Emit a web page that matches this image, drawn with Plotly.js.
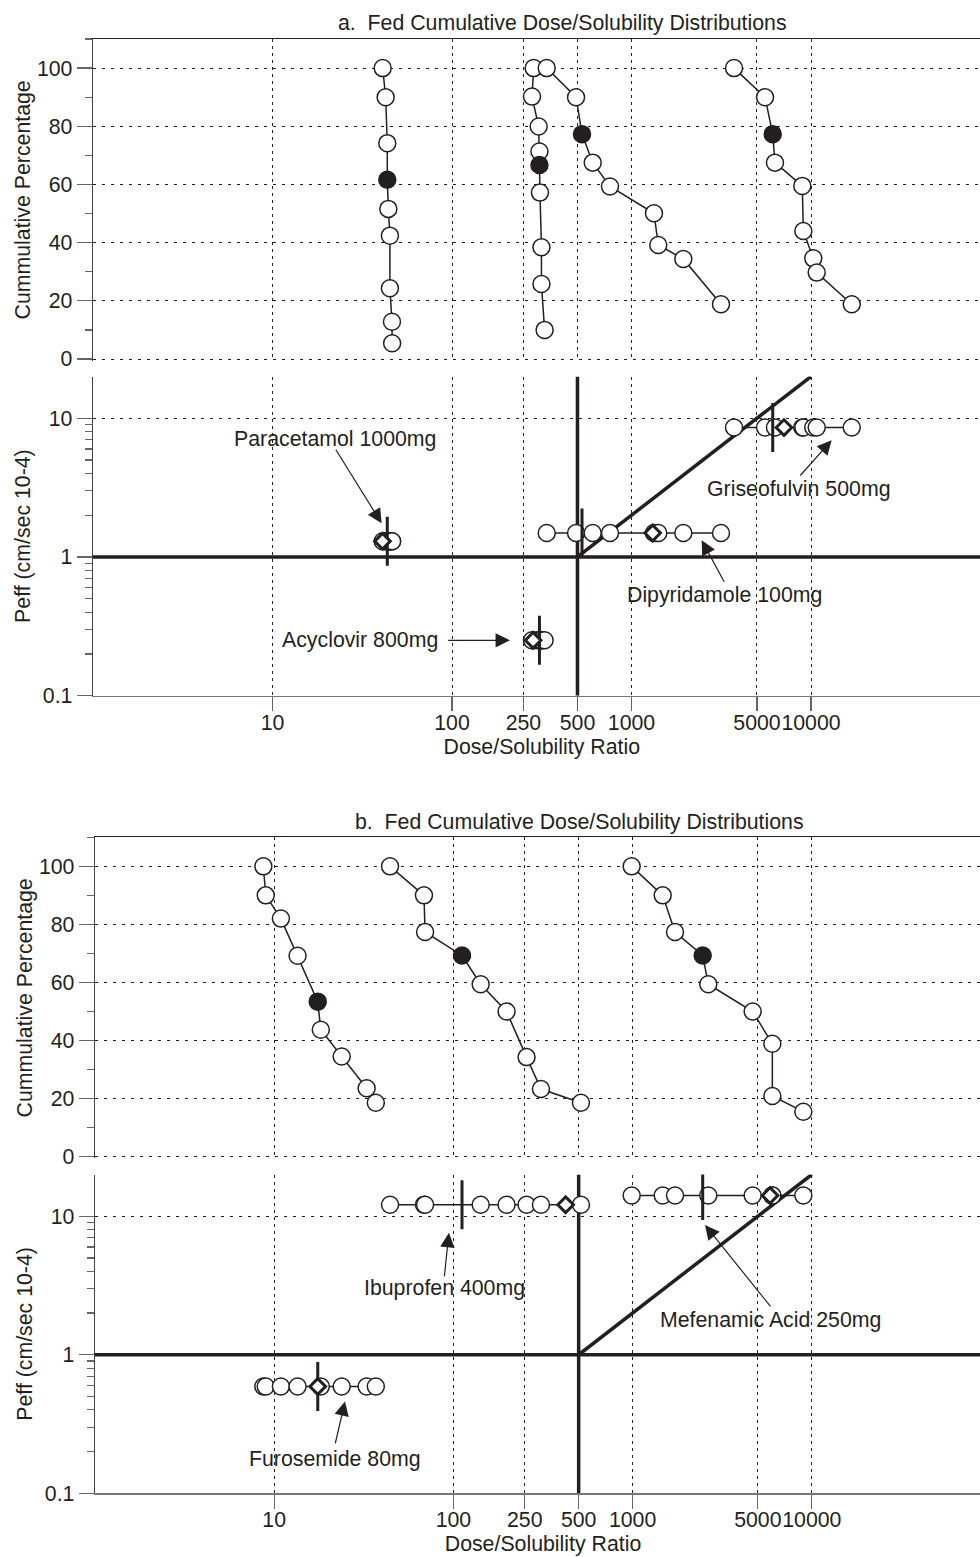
<!DOCTYPE html>
<html><head><meta charset="utf-8">
<script src="https://cdn.plot.ly/plotly-3.0.1.min.js"></script>
<style>html,body{margin:0;padding:0;overflow:hidden;background:#fff}</style>
</head><body><div id="chart" style="width:1000px;height:1557px"></div>
<script>
// ---------- tick labels ----------
const xTickVals = [10, 100, 250, 500, 1000, 5000, 10000];
const xTickText = ['10', '100', '250', '500', '1000', '5000', '10000'];
const pctTickVals = [0, 20, 40, 60, 80, 100];
const pctMinorVals = [10, 30, 50, 70, 90, 110];
const peffTickVals = [0.1, 1, 10];
const peffTickText = ['0.1', '1', '10'];
const peffMinorVals = [0.2, 0.3, 0.4, 0.5, 0.6, 0.7, 0.8, 0.9, 2, 3, 4, 5, 6, 7, 8, 9];

// ---------- classification boundaries ----------
const peffLimitX = [1, 100000];
const peffLimitY = [1, 1];
const dsLimitX = [500, 500];
const dsLimitY = [0.1, 20];
const diagX = [500, 10000];
const diagY = [1, 20];

// ---------- panel a ----------
const paracetamolDS  = [41.1, 42.7, 43.6, 43.6, 44.2, 45.1, 45.1, 46.3, 46.4];
const paracetamolPct = [100, 90, 74.2, 61.6, 51.6, 42.4, 24.3, 12.8, 5.4];
const paracetamolMedianIdx = 3;
const paracetamolMeanDS = 41;
const paracetamolPeff = 1.30;

const acyclovirDS  = [285, 279, 304, 307, 307, 309, 315, 315, 328];
const acyclovirPct = [100, 90.2, 79.9, 71.3, 66.7, 57.2, 38.4, 25.8, 10.0];
const acyclovirMedianIdx = 4;
const acyclovirMeanDS = 283;
const acyclovirPeff = 0.251;

const dipyridamoleDS  = [337, 491, 530, 608, 759, 1334, 1410, 1944, 3152];
const dipyridamolePct = [100, 90, 77.3, 67.5, 59.3, 50.1, 39.2, 34.4, 18.8];
const dipyridamoleMedianIdx = 2;
const dipyridamoleMeanDS = 1312;
const dipyridamolePeff = 1.49;

const griseofulvinDS  = [3724, 5546, 6120, 6299, 8944, 9063, 10295, 10759, 16866];
const griseofulvinPct = [100, 90, 77.3, 67.5, 59.5, 44.0, 34.6, 29.7, 18.8];
const griseofulvinMedianIdx = 2;
const griseofulvinMeanDS = 7070;
const griseofulvinPeff = 8.57;

// ---------- panel b ----------
const furosemideDS  = [8.70, 8.97, 10.9, 13.5, 17.5, 18.2, 23.8, 32.8, 36.9];
const furosemidePct = [100, 90, 82.0, 69.2, 53.4, 43.7, 34.5, 23.6, 18.6];
const furosemideMedianIdx = 4;
const furosemideMeanDS = 17.5;
const furosemidePeff = 0.59;

const ibuprofenDS  = [44.3, 68.5, 69.5, 111.7, 142, 198, 256, 308, 515];
const ibuprofenPct = [100, 90, 77.4, 69.3, 59.4, 50.0, 34.3, 23.3, 18.6];
const ibuprofenMedianIdx = 3;
const ibuprofenMeanDS = 423;
const ibuprofenPeff = 12.1;

const mefenamicDS  = [988, 1472, 1725, 2461, 2645, 4677, 6023, 6023, 8970];
const mefenamicPct = [100, 90, 77.4, 69.3, 59.4, 50.0, 38.9, 20.9, 15.5];
const mefenamicMedianIdx = 3;
const mefenamicMeanDS = 5847;
const mefenamicPeff = 14.1;

// ---------- styling ----------
const ink = '#231f20';
const fontFam = 'Liberation Sans, Arial, Helvetica, sans-serif';
const FS = 21.3;

function cumTrace(ds, pct, medIdx, xa, ya) {
  return {
    type: 'scatter', mode: 'lines+markers', x: ds, y: pct, xaxis: xa, yaxis: ya,
    line: {color: ink, width: 1.5},
    marker: {symbol: 'circle', size: 17,
      color: ds.map((_, i) => i === medIdx ? ink : '#ffffff'),
      line: {color: ink, width: 1.5}},
    hoverinfo: 'x+y'
  };
}
function rowTraces(ds, peff, medIdx, meanDS, xa, ya) {
  const xs = ds.filter((_, i) => i !== medIdx);
  return [
    {type: 'scatter', mode: 'lines+markers', x: xs, y: xs.map(() => peff), xaxis: xa, yaxis: ya,
     line: {color: ink, width: 1.5},
     marker: {symbol: 'circle', size: 17, color: '#ffffff', line: {color: ink, width: 1.5}}},
    {type: 'scatter', mode: 'markers', x: [ds[medIdx]], y: [peff], xaxis: xa, yaxis: ya,
     marker: {symbol: 'line-ns', size: 35, color: ink, line: {color: ink, width: 3}}},
    {type: 'scatter', mode: 'markers', x: [meanDS], y: [peff], xaxis: xa, yaxis: ya,
     marker: {symbol: 'diamond', size: 12, color: '#ffffff', line: {color: ink, width: 3}}}
  ];
}
function boundaryTraces(xa, ya) {
  const st = {type: 'scatter', mode: 'lines', xaxis: xa, yaxis: ya, hoverinfo: 'skip',
              line: {color: ink, width: 3.5}};
  return [
    Object.assign({x: peffLimitX, y: peffLimitY}, st),
    Object.assign({x: dsLimitX, y: dsLimitY}, st),
    Object.assign({x: diagX, y: diagY}, st)
  ];
}

const traces = [].concat(
  boundaryTraces('x2', 'y2'),
  boundaryTraces('x4', 'y4'),
  [cumTrace(paracetamolDS, paracetamolPct, paracetamolMedianIdx, 'x', 'y'),
   cumTrace(acyclovirDS, acyclovirPct, acyclovirMedianIdx, 'x', 'y'),
   cumTrace(dipyridamoleDS, dipyridamolePct, dipyridamoleMedianIdx, 'x', 'y'),
   cumTrace(griseofulvinDS, griseofulvinPct, griseofulvinMedianIdx, 'x', 'y')],
  rowTraces(paracetamolDS, paracetamolPeff, paracetamolMedianIdx, paracetamolMeanDS, 'x2', 'y2'),
  rowTraces(acyclovirDS, acyclovirPeff, acyclovirMedianIdx, acyclovirMeanDS, 'x2', 'y2'),
  rowTraces(dipyridamoleDS, dipyridamolePeff, dipyridamoleMedianIdx, dipyridamoleMeanDS, 'x2', 'y2'),
  rowTraces(griseofulvinDS, griseofulvinPeff, griseofulvinMedianIdx, griseofulvinMeanDS, 'x2', 'y2'),
  [cumTrace(furosemideDS, furosemidePct, furosemideMedianIdx, 'x3', 'y3'),
   cumTrace(ibuprofenDS, ibuprofenPct, ibuprofenMedianIdx, 'x3', 'y3'),
   cumTrace(mefenamicDS, mefenamicPct, mefenamicMedianIdx, 'x3', 'y3')],
  rowTraces(furosemideDS, furosemidePeff, furosemideMedianIdx, furosemideMeanDS, 'x4', 'y4'),
  rowTraces(ibuprofenDS, ibuprofenPeff, ibuprofenMedianIdx, ibuprofenMeanDS, 'x4', 'y4'),
  rowTraces(mefenamicDS, mefenamicPeff, mefenamicMedianIdx, mefenamicMeanDS, 'x4', 'y4')
);

const H = 1557, W = 1000;
const py = p => 1 - p / H;
const xDomA = [93 / W, 990.5 / W];
const xDomB = [95 / W, 991 / W];

function topX(dom, anchor) {
  return {domain: dom, anchor: anchor, type: 'log', range: [0, 5], side: 'top',
    showline: true, linecolor: ink, linewidth: 1.3, ticks: '', showticklabels: false,
    tickmode: 'array', tickvals: xTickVals, showgrid: true, gridcolor: ink, gridwidth: 1,
    griddash: '3px,4px', zeroline: false, fixedrange: true};
}
function botX(dom, anchor) {
  return {domain: dom, anchor: anchor, type: 'log', range: [0, 5],
    showline: true, linecolor: '#777', linewidth: 1.3, ticks: 'outside', ticklen: 14,
    tickcolor: '#666', tickwidth: 1.2, tickangle: 0, ticklabelstandoff: -7,
    tickmode: 'array', tickvals: xTickVals, ticktext: xTickText,
    tickfont: {family: fontFam, size: FS, color: ink},
    showgrid: true, gridcolor: ink, gridwidth: 1, griddash: '3px,4px', zeroline: false,
    title: {text: 'Dose/Solubility Ratio', font: {family: fontFam, size: FS, color: ink}, standoff: 4},
    fixedrange: true};
}
function pctY(dom, anchor) {
  return {domain: dom, anchor: anchor, range: [-0.6, 110],
    showline: true, linecolor: '#444', linewidth: 1.3, ticks: 'outside', ticklen: 15,
    tickcolor: '#666', tickwidth: 1.2, tickmode: 'array', tickvals: pctTickVals,
    tickfont: {family: fontFam, size: FS, color: ink},
    minor: {tickmode: 'array', tickvals: pctMinorVals, ticks: 'outside', ticklen: 7,
            tickcolor: '#666', tickwidth: 1.2, showgrid: false},
    showgrid: true, gridcolor: ink, gridwidth: 1, griddash: '3px,6px', zeroline: false,
    title: {text: 'Cummulative Percentage', font: {family: fontFam, size: FS, color: ink}, standoff: 0},
    fixedrange: true};
}
function peffY(dom, anchor) {
  return {domain: dom, anchor: anchor, type: 'log', range: [-1, Math.log10(20)],
    showline: true, linecolor: '#444', linewidth: 1.3, ticks: 'outside', ticklen: 15,
    tickcolor: '#666', tickwidth: 1.2, tickmode: 'array', tickvals: peffTickVals, ticktext: peffTickText,
    tickfont: {family: fontFam, size: FS, color: ink},
    minor: {tickmode: 'array', tickvals: peffMinorVals, ticks: 'outside', ticklen: 7,
            tickcolor: '#666', tickwidth: 1.2, showgrid: false},
    showgrid: true, gridcolor: ink, gridwidth: 1, griddash: '3px,6px', zeroline: false,
    title: {text: 'Peff (cm/sec 10-4)', font: {family: fontFam, size: FS, color: ink}, standoff: 6},
    fixedrange: true};
}

const labelFont = {family: fontFam, size: FS, color: ink};
function txt(xref, yref, x, y, text) {
  return {xref: xref, yref: yref, x: x, y: y, text: text, showarrow: false, font: labelFont,
          xanchor: 'center', yanchor: 'middle'};
}
function arr(xref, yref, x, y, ax, ay) {
  return {xref: xref, yref: yref, x: x, y: y, ax: ax, ay: ay, text: '', showarrow: true,
          arrowhead: 2, arrowsize: 2.4, arrowwidth: 1.2, arrowcolor: ink, standoff: 0};
}

const annotations = [
  {xref: 'paper', yref: 'paper', x: 562.5 / W, y: py(22.5), text: 'a.  Fed Cumulative Dose/Solubility Distributions',
   showarrow: false, font: labelFont, xanchor: 'center', yanchor: 'middle'},
  {xref: 'paper', yref: 'paper', x: 579.5 / W, y: py(822), text: 'b.  Fed Cumulative Dose/Solubility Distributions',
   showarrow: false, font: labelFont, xanchor: 'center', yanchor: 'middle'},
  txt('x2', 'y2', 1.348, 0.853, 'Paracetamol 1000mg'),
  arr('x2', 'y2', 1.608, 0.243, -46.7, -75),
  txt('x2', 'y2', 1.487, -0.601, 'Acyclovir 800mg'),
  arr('x2', 'y2', 2.323, -0.601, -63.3, 0),
  txt('x2', 'y2', 3.519, -0.276, 'Dipyridamole 100mg'),
  arr('x2', 'y2', 3.391, 0.120, 23.3, 43),
  txt('x2', 'y2', 3.929, 0.493, 'Griseofulvin 500mg'),
  arr('x2', 'y2', 4.115, 0.841, -32.7, 36.7),
  txt('x4', 'y4', 1.948, 0.483, 'Ibuprofen 400mg'),
  arr('x4', 'y4', 1.975, 0.880, -4.7, 45),
  txt('x4', 'y4', 1.339, -0.750, 'Furosemide 80mg'),
  arr('x4', 'y4', 1.395, -0.337, -10, 43.3),
  txt('x4', 'y4', 3.772, 0.252, 'Mefenamic Acid 250mg'),
  arr('x4', 'y4', 3.404, 0.937, 66.7, 83)
];

const layout = {
  width: W, height: H, margin: {l: 0, r: 0, t: 0, b: 0}, showlegend: false,
  paper_bgcolor: '#ffffff', plot_bgcolor: '#ffffff',
  font: {family: fontFam, size: FS, color: ink},
  xaxis: topX(xDomA, 'y'),
  yaxis: pctY([py(360.75), py(39)], 'x'),
  xaxis2: botX(xDomA, 'y2'),
  yaxis2: peffY([py(695.7), py(376.5)], 'x2'),
  xaxis3: topX(xDomB, 'y3'),
  yaxis3: pctY([py(1158.45), py(837.3)], 'x3'),
  xaxis4: botX(xDomB, 'y4'),
  yaxis4: peffY([py(1493.3), py(1174.5)], 'x4'),
  annotations: annotations
};

Plotly.newPlot('chart', traces, layout, {displayModeBar: false, staticPlot: true});
</script>
</body></html>
